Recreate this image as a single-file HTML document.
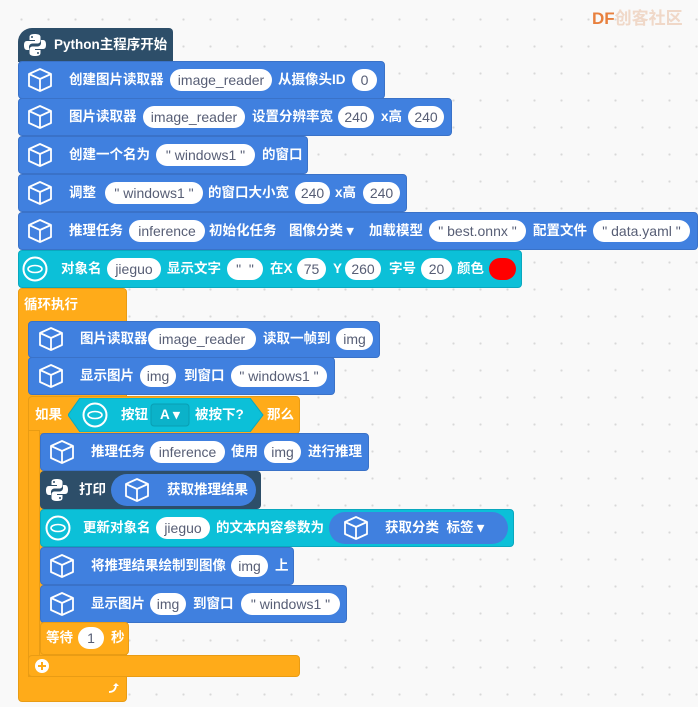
<!DOCTYPE html>
<html><head><meta charset="utf-8"><style>
body{margin:0;width:698px;height:707px;overflow:hidden;background-color:#f9f9f9;background-image:radial-gradient(#d8d8d8 1px,transparent 1.2px);background-size:27px 27px;background-position:8px 6px;position:relative;font-family:"Liberation Sans","Noto Sans CJK SC",sans-serif}
.b{position:absolute;border-radius:4px}
.bl{background:#4080df;border:1px solid #3a72c8;box-sizing:border-box}
.cy{background:#0cc0d8;border:1px solid #0aa8be;box-sizing:border-box}
.dk{background:#2d4e69;box-sizing:border-box}
.or{background:#ffab19;border:1px solid #e99c14;box-sizing:border-box}
.t{position:absolute;color:#fff;font-weight:bold;font-size:13.5px;line-height:18px;white-space:nowrap;font-family:"Liberation Sans","Noto Sans CJK SC",sans-serif}
.p{position:absolute;background:#fff;border-radius:11px;height:22px;line-height:22px;color:#575e75;font-size:14px;text-align:center;white-space:nowrap;font-family:"Liberation Sans","Noto Sans CJK SC",sans-serif}
.ic{position:absolute;width:26px;height:26px}
</style></head><body>
<svg width="0" height="0" style="position:absolute"><defs>
<symbol id="cube" viewBox="0 0 26 26"><g fill="none" stroke="#fff" stroke-width="1.8" stroke-linejoin="round"><path d="M13 2 L24 7 L24 19 L13 24 L2 19 L2 7 Z"/><path d="M2 7 L13 12 L24 7 M13 12 L13 24"/></g></symbol>
<symbol id="oval" viewBox="0 0 26 26"><circle cx="13" cy="13" r="11.5" fill="none" stroke="#fff" stroke-width="2"/><ellipse cx="13" cy="13" rx="7" ry="3.5" fill="none" stroke="#fff" stroke-width="1.6"/></symbol>
<symbol id="py" viewBox="0 0 26 26"><path d="M12.5 2c-5 0-5 2-5 3.5V8h5.5v1H5C2.5 9 2 11 2 13.5S2.8 18 5 18h2v-3c0-2 1.5-3.5 3.5-3.5h5c1.7 0 3-1.3 3-3V5c0-2-2-3-6-3z M10 4a1 1 0 1 1 0 2a1 1 0 1 1 0-2z" fill="#fff"/><path d="M13.5 24c5 0 5-2 5-3.5V18h-5.5v-1H21c2.5 0 3-2 3-4.5S23.2 8 21 8h-2v3c0 2-1.5 3.5-3.5 3.5h-5c-1.7 0-3 1.3-3 3V21c0 2 2 3 6 3z M16 20a1 1 0 1 1 0 2a1 1 0 1 1 0-2z" fill="#fff"/></symbol>
</defs></svg>

<!-- watermark -->
<div class="t" style="left:592px;top:10px;font-size:17px;color:#e8803e">DF<span style="color:#f0d8c8">创客社区</span></div>

<!-- loop C -->
<div class="b or" style="left:18px;top:288px;width:109px;height:414px"></div>
<div class="t" style="left:24px;top:296px">循环执行</div>
<svg style="position:absolute;left:107px;top:682px" width="14" height="12"><path d="M2 10 Q8 10 9 4" fill="none" stroke="#fff" stroke-width="1.8"/><path d="M6 4 L9 1 L12 4 Z" fill="#fff"/></svg>

<!-- if C -->
<div class="b or" style="left:28px;top:396px;width:272px;height:38px"></div>
<div class="b or" style="left:28px;top:430px;width:12px;height:247px;border-radius:0"></div>
<div class="b or" style="left:28px;top:655px;width:272px;height:22px"></div>
<div class="t" style="left:35px;top:406px">如果</div>
<div class="t" style="left:267px;top:406px">那么</div>
<svg style="position:absolute;left:68px;top:398px" width="196" height="34"><path d="M0 17 L12 0 L182 0 L195 17 L182 34 L12 34 Z" fill="#0cc0d8" stroke="#0aa8be"/><rect x="83" y="6" width="38" height="22" rx="3" fill="#0bb2c9" stroke="#099eb3"/></svg>
<svg class="ic" style="left:82px;top:402px"><use href="#oval"/></svg>
<div class="t" style="left:121px;top:406px">按钮</div>
<div class="t" style="left:160px;top:406px">A ▾</div>
<div class="t" style="left:195px;top:406px">被按下?</div>
<svg style="position:absolute;left:34px;top:658px" width="16" height="16"><circle cx="8" cy="8" r="7" fill="#fff"/><path d="M8 4v8M4 8h8" stroke="#ffab19" stroke-width="2"/></svg>

<!-- hat -->
<div class="b dk" style="left:18px;top:28px;width:155px;height:34px;border-radius:14px 4px 0 0"></div>
<svg class="ic" style="left:22px;top:32px"><use href="#py"/></svg>
<div class="t" style="left:54px;top:36px">Python主程序开始</div>

<!-- row1 -->
<div class="b bl" style="left:18px;top:61px;width:367px;height:38px"></div>
<svg class="ic" style="left:27px;top:67px"><use href="#cube"/></svg>
<div class="t" style="left:69px;top:71px">创建图片读取器</div>
<div class="p" style="left:170px;top:69px;width:102px">image_reader</div>
<div class="t" style="left:278px;top:71px">从摄像头ID</div>
<div class="p" style="left:352px;top:69px;width:25px">0</div>

<!-- row2 -->
<div class="b bl" style="left:18px;top:98px;width:434px;height:38px"></div>
<svg class="ic" style="left:27px;top:104px"><use href="#cube"/></svg>
<div class="t" style="left:69px;top:108px">图片读取器</div>
<div class="p" style="left:143px;top:106px;width:102px">image_reader</div>
<div class="t" style="left:252px;top:108px">设置分辨率宽</div>
<div class="p" style="left:338px;top:106px;width:36px">240</div>
<div class="t" style="left:381px;top:108px">x高</div>
<div class="p" style="left:408px;top:106px;width:36px">240</div>

<!-- row3 -->
<div class="b bl" style="left:18px;top:136px;width:290px;height:38px"></div>
<svg class="ic" style="left:27px;top:142px"><use href="#cube"/></svg>
<div class="t" style="left:69px;top:146px">创建一个名为</div>
<div class="p" style="left:156px;top:144px;width:99px">" windows1 "</div>
<div class="t" style="left:262px;top:146px">的窗口</div>

<!-- row4 -->
<div class="b bl" style="left:18px;top:174px;width:389px;height:38px"></div>
<svg class="ic" style="left:27px;top:180px"><use href="#cube"/></svg>
<div class="t" style="left:69px;top:184px">调整</div>
<div class="p" style="left:105px;top:182px;width:98px">" windows1 "</div>
<div class="t" style="left:208px;top:184px">的窗口大小宽</div>
<div class="p" style="left:295px;top:182px;width:35px">240</div>
<div class="t" style="left:335px;top:184px">x高</div>
<div class="p" style="left:363px;top:182px;width:37px">240</div>

<!-- row5 -->
<div class="b bl" style="left:18px;top:212px;width:680px;height:38px"></div>
<svg class="ic" style="left:27px;top:218px"><use href="#cube"/></svg>
<div class="t" style="left:69px;top:222px">推理任务</div>
<div class="p" style="left:129px;top:220px;width:76px">inference</div>
<div class="t" style="left:209px;top:222px">初始化任务</div>
<div class="t" style="left:289px;top:222px">图像分类 ▾</div>
<div class="t" style="left:369px;top:222px">加载模型</div>
<div class="p" style="left:429px;top:220px;width:97px">" best.onnx "</div>
<div class="t" style="left:533px;top:222px">配置文件</div>
<div class="p" style="left:593px;top:220px;width:97px">" data.yaml "</div>

<!-- row6 cyan -->
<div class="b cy" style="left:18px;top:250px;width:504px;height:38px"></div>
<svg class="ic" style="left:22px;top:256px"><use href="#oval"/></svg>
<div class="t" style="left:61px;top:260px">对象名</div>
<div class="p" style="left:107px;top:258px;width:54px">jieguo</div>
<div class="t" style="left:167px;top:260px">显示文字</div>
<div class="p" style="left:227px;top:258px;width:36px">"&nbsp; "</div>
<div class="t" style="left:270px;top:260px">在X</div>
<div class="p" style="left:297px;top:258px;width:29px">75</div>
<div class="t" style="left:333px;top:260px">Y</div>
<div class="p" style="left:345px;top:258px;width:36px">260</div>
<div class="t" style="left:389px;top:260px">字号</div>
<div class="p" style="left:421px;top:258px;width:31px">20</div>
<div class="t" style="left:457px;top:260px">颜色</div>
<div class="b" style="left:489px;top:258px;width:27px;height:22px;border-radius:11px;background:#f00"></div>

<!-- inner1 -->
<div class="b bl" style="left:28px;top:321px;width:352px;height:37px"></div>
<svg class="ic" style="left:38px;top:326px"><use href="#cube"/></svg>
<div class="t" style="left:80px;top:330px">图片读取器</div>
<div class="p" style="left:148px;top:328px;width:108px">image_reader</div>
<div class="t" style="left:263px;top:330px">读取一帧到</div>
<div class="p" style="left:336px;top:328px;width:37px">img</div>

<div class="b bl" style="left:28px;top:357px;width:307px;height:38px"></div>
<svg class="ic" style="left:38px;top:363px"><use href="#cube"/></svg>
<div class="t" style="left:80px;top:367px">显示图片</div>
<div class="p" style="left:140px;top:365px;width:36px">img</div>
<div class="t" style="left:184px;top:367px">到窗口</div>
<div class="p" style="left:231px;top:365px;width:96px">" windows1 "</div>

<!-- if inner -->
<div class="b bl" style="left:40px;top:433px;width:329px;height:38px"></div>
<svg class="ic" style="left:49px;top:439px"><use href="#cube"/></svg>
<div class="t" style="left:91px;top:443px">推理任务</div>
<div class="p" style="left:150px;top:441px;width:75px">inference</div>
<div class="t" style="left:231px;top:443px">使用</div>
<div class="p" style="left:264px;top:441px;width:37px">img</div>
<div class="t" style="left:308px;top:443px">进行推理</div>

<div class="b dk" style="left:40px;top:471px;width:221px;height:38px"></div>
<svg class="ic" style="left:44px;top:477px"><use href="#py"/></svg>
<div class="t" style="left:79px;top:481px">打印</div>
<div class="b" style="left:111px;top:474px;width:145px;height:32px;border-radius:16px;background:#4080df"></div>
<svg class="ic" style="left:124px;top:477px"><use href="#cube"/></svg>
<div class="t" style="left:167px;top:481px">获取推理结果</div>

<div class="b cy" style="left:40px;top:509px;width:474px;height:38px"></div>
<svg class="ic" style="left:45px;top:515px"><use href="#oval"/></svg>
<div class="t" style="left:83px;top:519px">更新对象名</div>
<div class="p" style="left:156px;top:517px;width:54px">jieguo</div>
<div class="t" style="left:216px;top:519px">的文本内容参数为</div>
<div class="b" style="left:329px;top:512px;width:179px;height:32px;border-radius:16px;background:#4080df"></div>
<svg class="ic" style="left:343px;top:515px"><use href="#cube"/></svg>
<div class="t" style="left:385px;top:519px">获取分类 &nbsp;标签 ▾</div>

<div class="b bl" style="left:40px;top:547px;width:254px;height:38px"></div>
<svg class="ic" style="left:49px;top:553px"><use href="#cube"/></svg>
<div class="t" style="left:91px;top:557px">将推理结果绘制到图像</div>
<div class="p" style="left:231px;top:555px;width:37px">img</div>
<div class="t" style="left:275px;top:557px">上</div>

<div class="b bl" style="left:40px;top:585px;width:307px;height:38px"></div>
<svg class="ic" style="left:49px;top:591px"><use href="#cube"/></svg>
<div class="t" style="left:91px;top:595px">显示图片</div>
<div class="p" style="left:150px;top:593px;width:36px">img</div>
<div class="t" style="left:193px;top:595px">到窗口</div>
<div class="p" style="left:241px;top:593px;width:99px">" windows1 "</div>

<div class="b or" style="left:40px;top:622px;width:89px;height:33px"></div>
<div class="t" style="left:46px;top:629px">等待</div>
<div class="p" style="left:78px;top:627px;width:26px">1</div>
<div class="t" style="left:111px;top:629px">秒</div>
</body></html>
